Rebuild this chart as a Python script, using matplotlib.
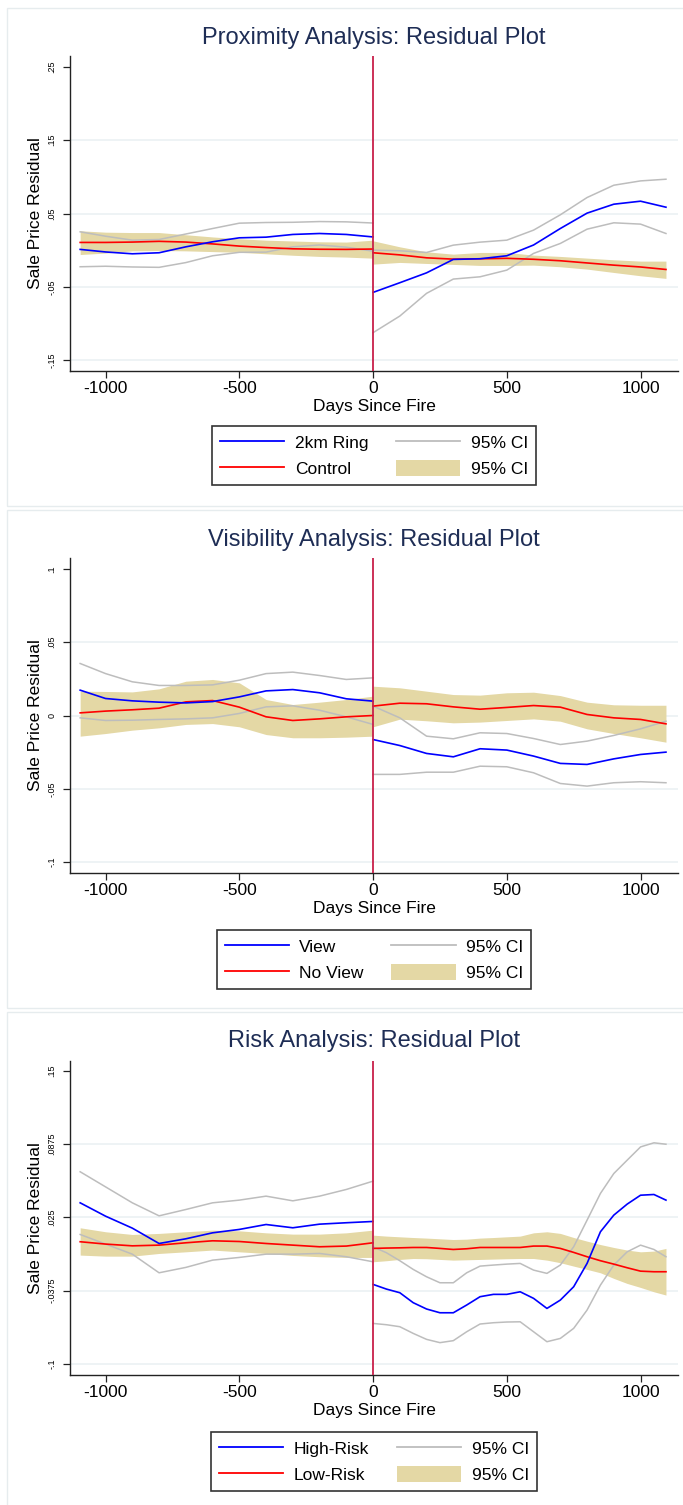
import matplotlib
matplotlib.use('Agg')
import matplotlib.pyplot as plt
from matplotlib.patches import Rectangle
from matplotlib.lines import Line2D
from matplotlib.patches import Patch

plt.rcParams['font.family'] = ['Liberation Sans', 'DejaVu Sans']

# ---- data ----
pre_days = [-1095, -1000, -900, -800, -700, -600, -500, -400, -300, -200, -100, 0]
post_days = [0, 100, 200, 300, 400, 500, 600, 700, 800, 900, 1000, 1095]
risk_post_days = [0, 50, 100, 150, 200, 250, 300, 350, 400, 450, 500, 550,
                  600, 650, 700, 750, 800, 850, 900, 950, 1000, 1050, 1095]

# Proximity
ring_pre = [.001, -.0025, -.005, -.0036, .0045, .0114, .0168, .0177, .0214, .0227, .0214, .018]
ring_pre_hi = [.025, .019, .0136, .0145, .022, .0295, .0368, .0377, .038, .039, .0386, .037]
ring_pre_lo = [-.0227, -.022, -.023, -.0235, -.017, -.0077, -.003, -.0027, .0045, .007, .004, -.0014]
ctrl_pre = [.0105, .0105, .011, .012, .011, .0085, .0055, .0035, .0018, .0012, .001, .0015]
ctrl_pre_hi = [.0264, .0245, .024, .024, .021, .018, .0155, .0136, .0125, .0114, .011, .0136]
ctrl_pre_lo = [-.006, -.004, -.001, -.0005, -.001, -.002, -.003, -.005, -.007, -.0086, -.0095, -.011]
ring_post = [-.0577, -.0445, -.031, -.0127, -.0118, -.0077, .007, .0295, .0505, .0627, .0668, .0586]
ring_post_hi = [.0, -.0009, -.0032, .0068, .0109, .0136, .0273, .0482, .0718, .0886, .0945, .0968]
ring_post_lo = [-.1127, -.09, -.059, -.0395, -.0364, -.0273, -.0045, .0091, .0286, .0373, .0355, .0227]
ctrl_post = [-.0036, -.0065, -.0105, -.0123, -.0118, -.0112, -.0125, -.0145, -.0175, -.0205, -.023, -.0264]
ctrl_post_hi = [.0127, .0045, -.0023, -.0055, -.0032, -.0032, -.0068, -.0086, -.0109, -.0132, -.015, -.015]
ctrl_post_lo = [-.0191, -.0168, -.0182, -.0195, -.0209, -.0209, -.0205, -.0227, -.0259, -.0305, -.035, -.0386]

# Visibility
view_pre = [.0173, .0116, .01, .0091, .0086, .0095, .0127, .0168, .0177, .0155, .0114, .0098]
view_pre_hi = [.0355, .0286, .023, .0205, .0205, .0209, .0241, .0286, .0296, .0273, .0246, .0257]
view_pre_lo = [-.0016, -.0034, -.0032, -.0027, -.0023, -.0016, .0014, .0059, .0066, .0036, -.0009, -.0061]
noview_pre = [.0018, .003, .0039, .005, .0093, .0102, .0057, -.0009, -.0034, -.0023, -.0009, .0]
noview_pre_hi = [.0166, .0164, .0161, .0182, .0234, .0246, .0223, .0109, .0075, .0091, .0109, .0132]
noview_pre_lo = [-.0141, -.0123, -.01, -.0084, -.0061, -.0055, -.0077, -.013, -.0152, -.0152, -.0148, -.0141]
view_post = [-.0164, -.0205, -.0259, -.0282, -.0227, -.0236, -.0277, -.0327, -.0334, -.0296, -.0266, -.025]
view_post_hi = [.0064, -.0016, -.0141, -.0159, -.0118, -.0123, -.0157, -.0198, -.0175, -.0136, -.0091, -.0039]
view_post_lo = [-.0402, -.0402, -.0387, -.0387, -.0346, -.035, -.0391, -.0464, -.0482, -.0459, -.0452, -.0459]
noview_post = [.0064, .0084, .008, .0059, .0043, .0055, .0068, .0057, .0007, -.0016, -.0027, -.0057]
noview_post_hi = [.02, .0189, .0166, .0143, .0139, .0155, .0159, .0136, .0091, .0073, .007, .007]
noview_post_lo = [-.0077, -.0025, -.0036, -.005, -.0045, -.0034, -.0023, -.0039, -.0091, -.0123, -.0152, -.0182]

# Risk
high_pre = [.0375, .0261, .0159, .0028, .0068, .0119, .0148, .019, .0162, .0193, .0205, .0216]
high_pre_hi = [.064, .0511, .0375, .0264, .0318, .0375, .0398, .0432, .0392, .0432, .0489, .056]
high_pre_lo = [.0105, .0023, -.0063, -.0222, -.0176, -.0114, -.0091, -.0063, -.0063, -.0057, -.0085, -.0128]
low_pre = [.0043, .0023, .0008, .0014, .0034, .0051, .0045, .0028, .0014, .0, .0006, .0034]
low_pre_hi = [.0162, .0128, .0105, .0114, .0128, .0142, .0136, .0119, .0108, .0108, .0119, .0142]
low_pre_lo = [-.0071, -.008, -.008, -.0057, -.0043, -.0028, -.0043, -.0057, -.0074, -.0085, -.0091, -.0091]
high_post = [-.0321, -.0361, -.0392, -.0477, -.0531, -.0563, -.0563, -.0497, -.0426, -.0406, -.0406, -.0384,
             -.044, -.0526, -.0455, -.0341, -.0142, .0128, .027, .0364, .044, .0446, .0398]
high_post_hi = [.0, -.0051, -.0119, -.0193, -.0256, -.0307, -.0307, -.0222, -.0165, -.0156, -.0148, -.0142,
                -.0199, -.0227, -.0156, .0, .0227, .0455, .0625, .0739, .0852, .0887, .0875]
high_post_lo = [-.0654, -.0665, -.0682, -.0739, -.079, -.0818, -.0801, -.0725, -.0659, -.0648, -.0642, -.064,
                -.0725, -.081, -.0782, -.0696, -.054, -.0327, -.0156, -.0043, .0014, -.0023, -.0085]
low_post = [-.0014, -.0011, -.0009, -.0006, -.0006, -.0014, -.0023, -.0017, -.0006, -.0006, -.0006, -.0006,
            .0006, .0006, -.0014, -.0048, -.0085, -.0119, -.0148, -.0179, -.0208, -.0213, -.0213]
low_post_hi = [.0099, .0091, .0085, .0079, .0074, .0068, .0062, .0065, .0074, .0079, .0085, .0091,
               .0119, .0128, .0114, .0079, .0048, .0019, -.0006, -.0028, -.0043, -.0037, -.0014]
low_post_lo = [-.0128, -.0119, -.0108, -.01, -.0102, -.0108, -.0114, -.0111, -.0108, -.0105, -.0102, -.01,
               -.01, -.0114, -.0136, -.0165, -.0193, -.0222, -.027, -.0313, -.0347, -.0384, -.0412]

x_ticks = [-1000, -500, 0, 500, 1000]
prox_yticks = [-.15, -.05, .05, .15, .25]
prox_ylabels = ['-.15', '-.05', '.05', '.15', '.25']
vis_yticks = [-.1, -.05, 0, .05, .1]
vis_ylabels = ['-.1', '-.05', '0', '.05', '.1']
risk_yticks = [-.1, -.0375, .025, .0875, .15]
risk_ylabels = ['-.1', '-.0375', '.025', '.0875', '.15']

# ---- styling ----
W, H = 683, 1505
BLUE = '#0000FF'
RED = '#FF0000'
GRAY = '#BDBDBD'
SAND = '#E4D8A5'
NAVY = '#1E2D55'
VLINE = '#C8204A'
GRID = '#E9F0F2'


def fx(px):
    return px / W


def fy(py):
    return 1 - py / H


fig = plt.figure(figsize=(W / 100, H / 100), dpi=100)

# faint panel frames
for top, bot in [(8, 506), (510, 1008), (1012, 1510)]:
    fig.patches.append(Rectangle((fx(7), fy(bot)), fx(700) - fx(7), fy(top) - fy(bot),
                                 transform=fig.transFigure, fill=False,
                                 edgecolor='#E6ECEE', lw=1))


def panel(top, bot, title, title_y, ylim, yticks, ylabels,
          a_pre, a_pre_hi, a_pre_lo, b_pre, b_pre_hi, b_pre_lo,
          a_post, a_post_hi, a_post_lo, b_post, b_post_hi, b_post_lo,
          post_x, names, leg_top):
    ax = fig.add_axes([fx(70), fy(bot), fx(678) - fx(70), fy(top) - fy(bot)])
    ax.set_xlim(-1133, 1140)
    ax.set_ylim(*ylim)
    for t in yticks[:-1]:
        ax.axhline(t, color=GRID, lw=1.1, zorder=0)
    for xs, lo, hi in [(pre_days, b_pre_lo, b_pre_hi), (post_x, b_post_lo, b_post_hi)]:
        ax.fill_between(xs, lo, hi, color=SAND, lw=0, zorder=1)
    ax.plot(pre_days, a_pre_hi, color=GRAY, lw=1.1, zorder=2)
    ax.plot(pre_days, a_pre_lo, color=GRAY, lw=1.1, zorder=2)
    ax.plot(post_x, a_post_hi, color=GRAY, lw=1.1, zorder=2)
    ax.plot(post_x, a_post_lo, color=GRAY, lw=1.1, zorder=2)
    ax.plot(pre_days, b_pre, color=RED, lw=1.2, zorder=3)
    ax.plot(post_x, b_post, color=RED, lw=1.2, zorder=3)
    ax.plot(pre_days, a_pre, color=BLUE, lw=1.2, zorder=4)
    ax.plot(post_x, a_post, color=BLUE, lw=1.2, zorder=4)
    ax.axvline(0, color=VLINE, lw=1.3, zorder=5)

    for s in ['top', 'right']:
        ax.spines[s].set_visible(False)
    for s in ['left', 'bottom']:
        ax.spines[s].set_color('#222222')
        ax.spines[s].set_linewidth(1.0)
    ax.set_xticks(x_ticks)
    ax.set_xticklabels([str(v) for v in x_ticks], fontsize=12.5)
    ax.set_yticks(yticks)
    ax.set_yticklabels(ylabels, fontsize=6.5, rotation=90, va='center', ha='center')
    ax.tick_params(axis='both', direction='out', length=5, width=0.9, color='#222222')
    ax.tick_params(axis='x', pad=2)
    ax.tick_params(axis='y', pad=8)

    ax.set_xlabel('Days Since Fire', fontsize=12.5)
    ax.xaxis.set_label_coords(0.5, -36 / (bot - top))
    ax.xaxis.label.set_va('center')
    ax.set_ylabel('Sale Price Residual', fontsize=12.5)
    ax.yaxis.set_label_coords((36 - 70) / 608, 0.5)
    ax.yaxis.label.set_va('center')

    fig.text(fx(374), fy(title_y), title, fontsize=17, color=NAVY, ha='center', va='center')

    handles = [Line2D([], [], color=BLUE, lw=1.3),
               Line2D([], [], color=RED, lw=1.3),
               Line2D([], [], color=GRAY, lw=1.3),
               Patch(facecolor=SAND, edgecolor='none')]
    labels = [names[0], names[1], '95% CI', '95% CI']
    leg = fig.legend(handles, labels, ncol=2, loc='upper center',
                     bbox_to_anchor=(fx(374), fy(leg_top)), bbox_transform=fig.transFigure,
                     fontsize=12.5, frameon=True, fancybox=False, handlelength=3.7,
                     handleheight=1.1, handletextpad=0.6, columnspacing=1.6,
                     labelspacing=0.5, borderpad=0.45, borderaxespad=0)
    leg.get_frame().set_edgecolor('black')
    leg.get_frame().set_linewidth(1.2)
    return ax


panel(56, 371, 'Proximity Analysis: Residual Plot', 38, (-.165, .265), prox_yticks, prox_ylabels,
      ring_pre, ring_pre_hi, ring_pre_lo, ctrl_pre, ctrl_pre_hi, ctrl_pre_lo,
      ring_post, ring_post_hi, ring_post_lo, ctrl_post, ctrl_post_hi, ctrl_post_lo,
      post_days, ['2km Ring', 'Control'], 426)

panel(558, 873, 'Visibility Analysis: Residual Plot', 540, (-.1075, .1075), vis_yticks, vis_ylabels,
      view_pre, view_pre_hi, view_pre_lo, noview_pre, noview_pre_hi, noview_pre_lo,
      view_post, view_post_hi, view_post_lo, noview_post, noview_post_hi, noview_post_lo,
      post_days, ['View', 'No View'], 930)

panel(1061, 1375, 'Risk Analysis: Residual Plot', 1041, (-.1094, .1585), risk_yticks, risk_ylabels,
      high_pre, high_pre_hi, high_pre_lo, low_pre, low_pre_hi, low_pre_lo,
      high_post, high_post_hi, high_post_lo, low_post, low_post_hi, low_post_lo,
      risk_post_days, ['High-Risk', 'Low-Risk'], 1432)

fig.savefig('out.png', dpi=100)
